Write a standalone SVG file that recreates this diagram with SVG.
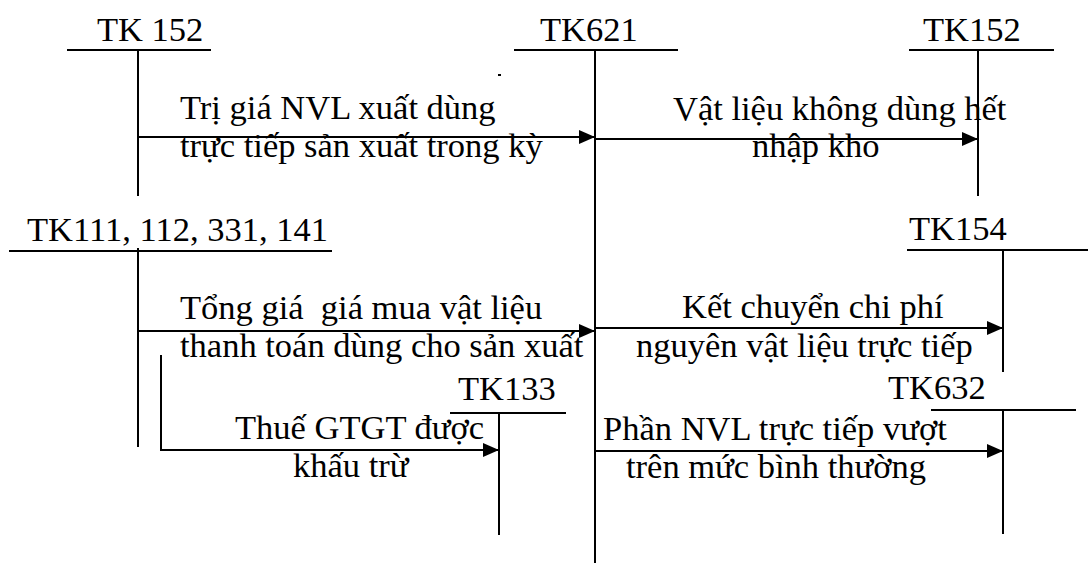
<svg xmlns="http://www.w3.org/2000/svg" width="1088" height="563" viewBox="0 0 1088 563">
  <style>
    .t { font-family: "Liberation Serif", "Times New Roman", serif; font-size: 34.5px; fill: #000; white-space: pre; }
    .acc { stroke: #000; stroke-width: 2; fill: none; }
    .flow { stroke: #000; stroke-width: 2; fill: none; marker-end: url(#head); }
  </style>
  <defs>
    <marker id="head" markerUnits="userSpaceOnUse" markerWidth="16" markerHeight="14" refX="16" refY="7" orient="auto">
      <path d="M0,0 L16,7 L0,14 Z" fill="#000"/>
    </marker>
  </defs>
  <rect width="1088" height="563" fill="#fff"/>

  <!-- T-accounts -->
  <g id="tk152-left">
    <text class="t" x="97" y="41">TK 152</text>
    <line class="acc" x1="67" y1="50" x2="211" y2="50"/>
    <line class="acc" x1="138" y1="50" x2="138" y2="196"/>
  </g>
  <g id="tk621">
    <text class="t" x="540" y="41">TK621</text>
    <line class="acc" x1="514" y1="50" x2="678" y2="50"/>
    <line class="acc" x1="595" y1="50" x2="595" y2="563"/>
  </g>
  <g id="tk152-right">
    <text class="t" x="923" y="41">TK152</text>
    <line class="acc" x1="909" y1="50" x2="1054" y2="50"/>
    <line class="acc" x1="978" y1="50" x2="978" y2="196"/>
  </g>
  <g id="tk111">
    <text class="t" x="27" y="241">TK111, 112, 331, 141</text>
    <line class="acc" x1="9" y1="251" x2="332" y2="251"/>
    <line class="acc" x1="138" y1="248" x2="138" y2="447"/>
  </g>
  <g id="tk154">
    <text class="t" x="909" y="240">TK154</text>
    <line class="acc" x1="907" y1="250" x2="1088" y2="250"/>
    <line class="acc" x1="1003" y1="250" x2="1003" y2="372"/>
  </g>
  <g id="tk133">
    <text class="t" x="458" y="400">TK133</text>
    <line class="acc" x1="450" y1="413" x2="566" y2="413"/>
    <line class="acc" x1="499" y1="413" x2="499" y2="535"/>
  </g>
  <g id="tk632">
    <text class="t" x="888" y="399">TK632</text>
    <line class="acc" x1="931" y1="410" x2="1076" y2="410"/>
    <line class="acc" x1="1003" y1="410" x2="1003" y2="534"/>
  </g>

  <!-- small dot -->
  <rect x="498" y="74" width="3" height="2" fill="#000"/>

  <!-- postings -->
  <g id="connectors">
    <line class="flow" x1="138" y1="137" x2="595" y2="137"/>
    <line class="flow" x1="595" y1="139" x2="978" y2="139"/>
    <line class="flow" x1="138" y1="331" x2="595" y2="331"/>
    <line class="flow" x1="595" y1="328" x2="1003" y2="328"/>
    <polyline class="flow" points="161,355 161,450 499,450"/>
    <line class="flow" x1="595" y1="451" x2="1003" y2="451"/>
  </g>

  <!-- posting labels -->
  <g id="labels">
    <text class="t" x="180" y="119">Trị giá NVL xuất dùng</text>
    <text class="t" x="180" y="157">trực tiếp sản xuất trong kỳ</text>
    <text class="t" x="673" y="120">Vật liệu không dùng hết</text>
    <text class="t" x="752" y="157">nhập kho</text>
    <text class="t" x="180" y="319">Tổng giá  giá mua vật liệu</text>
    <text class="t" x="180" y="357">thanh toán dùng cho sản xuất</text>
    <text class="t" x="682" y="318">Kết chuyển chi phí</text>
    <text class="t" x="636" y="357">nguyên vật liệu trực tiếp</text>
    <text class="t" x="235" y="439">Thuế GTGT được</text>
    <text class="t" x="293" y="477">khấu trừ</text>
    <text class="t" x="603" y="440">Phần NVL trực tiếp vượt</text>
    <text class="t" x="626" y="478">trên mức bình thường</text>
  </g>
</svg>
